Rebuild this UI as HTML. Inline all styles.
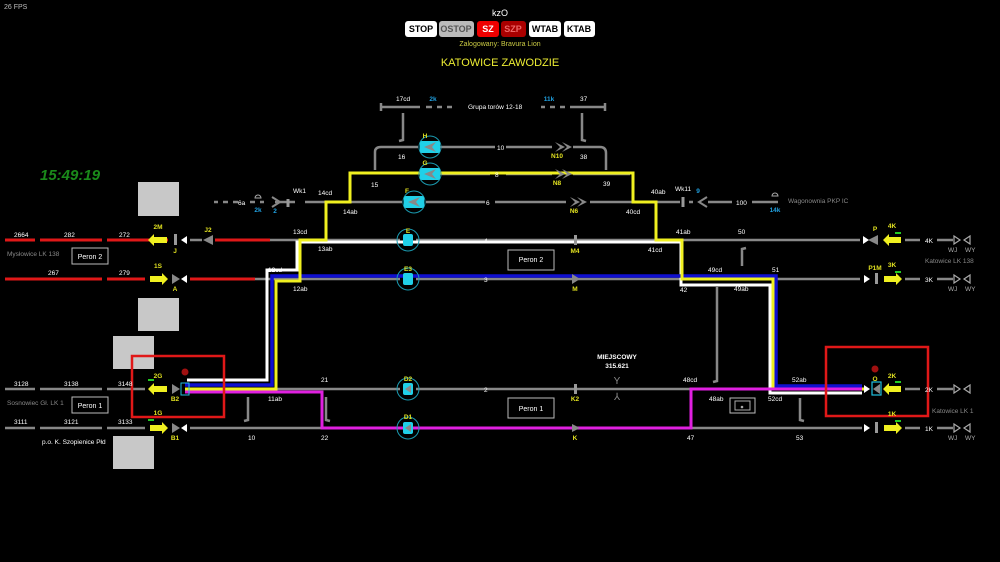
<!DOCTYPE html>
<html><head><meta charset="utf-8"><style>
html,body{margin:0;padding:0;background:#000;width:1000px;height:562px;overflow:hidden}
svg{display:block}
text{font-family:"Liberation Sans",sans-serif}
</style></head><body>
<svg width="1000" height="562" viewBox="0 0 1000 562" xmlns="http://www.w3.org/2000/svg">
<rect width="1000" height="562" fill="#000"/>
<text x="4" y="9" font-size="7" fill="#bbb">26 FPS</text>
<text x="500" y="16" font-size="9" fill="#fff" text-anchor="middle">kzO</text>
<g font-size="9" font-weight="bold" text-anchor="middle">
<rect x="405" y="21" width="32" height="16" rx="3" fill="#fff"/><text x="421" y="32" fill="#000">STOP</text>
<rect x="439" y="21" width="35" height="16" rx="3" fill="#bbb"/><text x="456" y="32" fill="#555">OSTOP</text>
<rect x="477" y="21" width="22" height="16" rx="3" fill="#e00"/><text x="488" y="32" fill="#fff">SZ</text>
<rect x="501" y="21" width="25" height="16" rx="3" fill="#a00"/><text x="513" y="32" fill="#e66">SZP</text>
<rect x="529" y="21" width="32" height="16" rx="3" fill="#fff"/><text x="545" y="32" fill="#000">WTAB</text>
<rect x="564" y="21" width="31" height="16" rx="3" fill="#fff"/><text x="579" y="32" fill="#000">KTAB</text>
</g>
<text x="500" y="46" font-size="7" fill="#cc4" text-anchor="middle">Zalogowany: Bravura Lion</text>
<text x="500" y="66" font-size="11" fill="#ee3" text-anchor="middle">KATOWICE ZAWODZIE</text>
<text x="40" y="180" font-size="15" font-weight="bold" font-style="italic" fill="#1a8a1a">15:49:19</text>

<g fill="#c8c8c8"><rect x="138" y="182" width="41" height="34"/><rect x="138" y="298" width="41" height="33"/><rect x="113" y="336" width="41" height="33"/><rect x="113" y="436" width="41" height="33"/></g>

<g stroke="#888" stroke-width="2.5" fill="none">
<path d="M381 103 V111 M381 107 H420 M426 107 H432 M437 107 H442 M447 107 H452"/>
<path d="M541 107 H545 M550 107 H555 M560 107 H565 M570 107 H605 M605 103 V111"/>
<path d="M403 113 V140 L399 141 M582 113 V140 L586 141"/>
<path d="M375 170 V152 Q375 147 381 147 H418 M440 147 H495 M506 147 H552 M573 147 H600 Q606 147 606 153 V170"/>
<path d="M440 174 H490 M506 174 H552 M573 174 H630"/>
<path d="M214 202 H218 M223 202 H228 M233 202 H238 M250 202 H255 M260 202 H264 M275 202 H295 M305 202 H402 M426 202 H485 M495 202 H566 M590 202 H680 M689 202 H693 M708 202 H732 M752 202 H778"/>
<path d="M288 199 V207" stroke="#999" stroke-width="3"/>
<path d="M683 197 V207" stroke="#999" stroke-width="3"/>
<path d="M190 240 H202 M270 240 H400 M416 240 H860"/>
<path d="M255 279 H400 M416 279 H860"/>
<path d="M5 389 H35 M40 389 H102 M107 389 H145 M195 389 H400 M416 389 H860"/>
<path d="M5 428 H35 M40 428 H102 M107 428 H145 M190 428 H400 M416 428 H862"/>
<path d="M248 397 V420 L244 421 M326 397 V420 L330 421 M717 287 V381 L713 382 M742 266 V249 L746 248 M800 398 V420 L804 421"/>
<path d="M905 240 H920 M937 240 H953 M905 279 H920 M937 279 H953 M905 389 H920 M937 389 H953 M905 428 H920 M937 428 H953"/>
</g>
<g stroke="#e01818" stroke-width="3">
<path d="M5 240 H35 M40 240 H102 M107 240 H168 M215 240 H270"/>
<path d="M5 279 H102 M107 279 H145 M190 279 H255"/>
</g>

<g fill="none" stroke-width="3">
<path d="M187 380 H267 V270 H297 V242 H681 V285 H770 V393 H862" stroke="#fff"/>
<path d="M185 385 H272 V276 H776 V386 H862" stroke="#1010d0" stroke-width="3.5"/>
<path d="M185 389 H276 V281 H300 V240 H326 V202 H350 V173 H633 V202 H656 V240 H682 V279 H773 V389 H865" stroke="#f0f020"/>
<path d="M185 392 H322 V428 H691 V389 H862" stroke="#e020e0"/>
</g>

<g stroke="#1a9ab0" stroke-width="1" fill="none">
<circle cx="430" cy="147" r="11"/><circle cx="430" cy="174" r="11"/><circle cx="414" cy="202" r="11"/>
<circle cx="408" cy="240" r="11"/><circle cx="408" cy="279" r="11"/><circle cx="408" cy="389" r="11"/><circle cx="408" cy="428" r="11"/>
</g>
<g fill="#20d0e8">
<rect x="420" y="141" width="20" height="12" rx="2"/><rect x="420" y="168" width="20" height="12" rx="2"/><rect x="404" y="196" width="20" height="12" rx="2"/>
<rect x="403" y="234" width="10" height="12" rx="2"/><rect x="403" y="273" width="10" height="12" rx="2"/><rect x="403" y="383" width="10" height="12" rx="2"/><rect x="403" y="422" width="10" height="12" rx="2"/>
</g>
<g fill="#888">
<path d="M424 147 L436 142 L432 147 L436 152Z"/><path d="M424 174 L436 169 L432 174 L436 179Z"/><path d="M408 202 L420 197 L416 202 L420 207Z"/>
<path d="M405 389 L411 385 V393Z"/><path d="M405 428 L411 424 V432Z"/>
<path d="M555 142 L565 147 L555 152 L560 147Z M562 142 L572 147 L562 152 L567 147Z"/>
<path d="M555 169 L565 174 L555 179 L560 174Z M562 169 L572 174 L562 179 L567 174Z"/>
<path d="M570 197 L580 202 L570 207 L575 202Z M577 197 L587 202 L577 207 L582 202Z"/>
<path d="M572 424 L580 428 L572 432Z"/><path d="M572 274 L580 279 L572 284Z"/>
<path d="M203 240 L213 235 V245Z"/><path d="M172 274 L180 279 L172 284Z"/>
<path d="M172 384 L180 389 L172 394Z"/><path d="M172 423 L180 428 L172 433Z"/>
<path d="M868 240 L878 235 V245Z"/>
</g>
<path d="M272 207 L280 202 L272 197" stroke="#888" stroke-width="2" fill="none"/>
<path d="M707 197 L699 202 L707 207" stroke="#888" stroke-width="2" fill="none"/>
<g fill="#999"><rect x="174" y="234" width="3" height="11"/><rect x="574" y="235" width="3" height="10"/><rect x="574" y="384" width="3" height="10"/><rect x="875" y="273" width="3" height="11"/><rect x="875" y="422" width="3" height="11"/></g>
<g fill="#fff">
<path d="M181 240 L187 236 V244Z"/><path d="M181 279 L187 275 V283Z"/><path d="M181 428 L187 424 V432Z"/>
<path d="M869 240 L863 236 V244Z"/><path d="M870 279 L864 275 V283Z"/><path d="M870 428 L864 424 V432Z"/><path d="M870 389 L864 385 V393Z"/>
</g>
<g fill="#f0f020">
<path d="M148 240 L154 234 V237 H167 V243 H154 V246Z"/><path d="M168 279 L162 273 V276 H150 V282 H162 V285Z"/>
<path d="M148 389 L154 383 V386 H167 V392 H154 V395Z"/><path d="M168 428 L162 422 V425 H150 V431 H162 V434Z"/>
<path d="M883 240 L889 234 V237 H901 V243 H889 V246Z"/><path d="M902 279 L896 273 V276 H884 V282 H896 V285Z"/>
<path d="M883 389 L889 383 V386 H901 V392 H889 V395Z"/><path d="M902 428 L896 422 V425 H884 V431 H896 V434Z"/>
</g>
<g fill="#2c2"><rect x="148" y="379" width="6" height="2"/><rect x="148" y="419" width="6" height="2"/><rect x="895" y="232" width="6" height="2"/><rect x="895" y="271" width="6" height="2"/><rect x="895" y="381" width="6" height="2"/><rect x="895" y="420" width="6" height="2"/></g>
<rect x="872" y="382" width="9" height="13" fill="none" stroke="#20c0e0" stroke-width="1.2"/><path d="M873 389 L880 384 V394Z" fill="#888"/>
<rect x="181" y="383" width="8" height="12" fill="none" stroke="#20c0e0" stroke-width="1"/>
<g stroke="#aaa" stroke-width="1.2" fill="none">
<path d="M954 236 L960 240 L954 244Z M970 236 L964 240 L970 244Z"/>
<path d="M954 275 L960 279 L954 283Z M970 275 L964 279 L970 283Z"/>
<path d="M954 385 L960 389 L954 393Z M970 385 L964 389 L970 393Z"/>
<path d="M954 424 L960 428 L954 432Z M970 424 L964 428 L970 432Z"/>
</g>
<rect x="132" y="356" width="92" height="61" fill="none" stroke="#e01818" stroke-width="2.5"/>
<rect x="826" y="347" width="102" height="69" fill="none" stroke="#e01818" stroke-width="2.5"/>
<circle cx="185" cy="372" r="3.5" fill="#a01010"/><circle cx="875" cy="369" r="3.5" fill="#a01010"/>
<g fill="none" stroke="#bbb" stroke-width="1">
<rect x="72" y="248" width="36" height="16"/><rect x="72" y="397" width="36" height="16"/>
<rect x="508" y="250" width="46" height="20"/><rect x="508" y="398" width="46" height="20"/>
<rect x="730" y="398" width="25" height="15"/>
</g>
<g font-size="7" fill="#fff" text-anchor="middle">
<text x="90" y="259">Peron 2</text><text x="90" y="408">Peron 1</text>
<text x="531" y="262">Peron 2</text><text x="531" y="411">Peron 1</text>
</g>
<g font-size="6.5" fill="#fff">
<text x="14" y="237">2664</text><text x="64" y="237">282</text><text x="119" y="237">272</text>
<text x="48" y="275">267</text><text x="119" y="275">279</text>
<text x="14" y="386">3128</text><text x="64" y="386">3138</text><text x="118" y="386">3148</text>
<text x="14" y="424">3111</text><text x="64" y="424">3121</text><text x="118" y="424">3133</text>
<text x="42" y="444">p.o.  K. Szopienice Płd</text>
<text x="238" y="205">6a</text><text x="293" y="193">Wk1</text><text x="318" y="195">14cd</text><text x="343" y="214">14ab</text>
<text x="293" y="234">13cd</text><text x="318" y="251">13ab</text><text x="268" y="272">12cd</text><text x="293" y="291">12ab</text>
<text x="268" y="401">11ab</text><text x="321" y="382">21</text><text x="248" y="440">10</text><text x="321" y="440">22</text>
<text x="396" y="101">17cd</text><text x="398" y="159">16</text><text x="371" y="187">15</text>
<text x="468" y="109">Grupa torów 12-18</text><text x="580" y="101">37</text><text x="580" y="159">38</text><text x="603" y="186">39</text>
<text x="497" y="150">10</text><text x="495" y="177">8</text><text x="486" y="205">6</text><text x="484" y="243">4</text><text x="484" y="282">3</text><text x="484" y="392">2</text>
<text x="651" y="194">40ab</text><text x="626" y="214">40cd</text><text x="675" y="191">Wk11</text><text x="736" y="205">100</text>
<text x="676" y="234">41ab</text><text x="648" y="252">41cd</text><text x="738" y="234">50</text>
<text x="708" y="272">49cd</text><text x="680" y="292">42</text><text x="734" y="291">49ab</text><text x="772" y="272">51</text>
<text x="683" y="382">48cd</text><text x="709" y="401">48ab</text><text x="768" y="401">52cd</text><text x="792" y="382">52ab</text>
<text x="687" y="440">47</text><text x="796" y="440">53</text>
<text x="925" y="243">4K</text><text x="925" y="282">3K</text><text x="925" y="392">2K</text><text x="925" y="431">1K</text>
</g>
<g font-size="6.5" font-weight="bold" fill="#fff" text-anchor="middle">
<text x="617" y="359">MIEJSCOWY</text><text x="617" y="368">315.621</text>
</g>
<text x="617" y="384" font-size="10" fill="#888" text-anchor="middle">Y</text>
<text x="617" y="400" font-size="10" fill="#888" text-anchor="middle">⅄</text>
<g font-size="6.5" fill="#888">
<text x="7" y="256">Mysłowice LK 138</text><text x="7" y="405">Sosnowiec Gł. LK 1</text>
<text x="788" y="203">Wagonownia PKP IC</text><text x="925" y="263">Katowice LK 138</text><text x="932" y="413">Katowice LK 1</text>
</g>
<g font-size="6.5" fill="#aaa"><text x="948" y="252">WJ</text><text x="965" y="252">WY</text><text x="948" y="291">WJ</text><text x="965" y="291">WY</text><text x="948" y="440">WJ</text><text x="965" y="440">WY</text></g>
<g font-size="6.5" font-weight="bold" fill="#e0e020" text-anchor="middle">
<text x="158" y="229">2M</text><text x="175" y="253">J</text><text x="208" y="232">J2</text>
<text x="158" y="268">1S</text><text x="175" y="291">A</text>
<text x="158" y="378">2G</text><text x="175" y="401">B2</text><text x="158" y="415">1G</text><text x="175" y="440">B1</text>
<text x="425" y="138">H</text><text x="425" y="165">G</text><text x="407" y="193">F</text><text x="408" y="233">E</text><text x="408" y="271">E3</text>
<text x="408" y="381">D2</text><text x="408" y="419">D1</text>
<text x="557" y="158">N10</text><text x="557" y="185">N8</text><text x="574" y="213">N6</text>
<text x="575" y="253">M4</text><text x="575" y="291">M</text><text x="575" y="401">K2</text><text x="575" y="440">K</text>
<text x="875" y="231">P</text><text x="892" y="228">4K</text><text x="875" y="270">P1M</text><text x="892" y="267">3K</text>
<text x="875" y="381">O</text><text x="892" y="378">2K</text><text x="892" y="416">1K</text>
</g>
<g font-size="6.5" font-weight="bold" fill="#20a0e0" text-anchor="middle">
<text x="258" y="212">2k</text><text x="275" y="213">2</text><text x="433" y="101">2k</text><text x="549" y="101">11k</text>
<text x="698" y="193">9</text><text x="775" y="212">14k</text>
</g>
<path d="M255 198 A3 3 0 0 1 261 198 Z M772 196 A3 3 0 0 1 778 196Z" fill="none" stroke="#aaa" stroke-width="1"/>
<rect x="735" y="401" width="15" height="9" fill="none" stroke="#aaa" stroke-width="1"/><circle cx="742" cy="407" r="1.3" fill="#aaa"/>
</svg>
</body></html>
